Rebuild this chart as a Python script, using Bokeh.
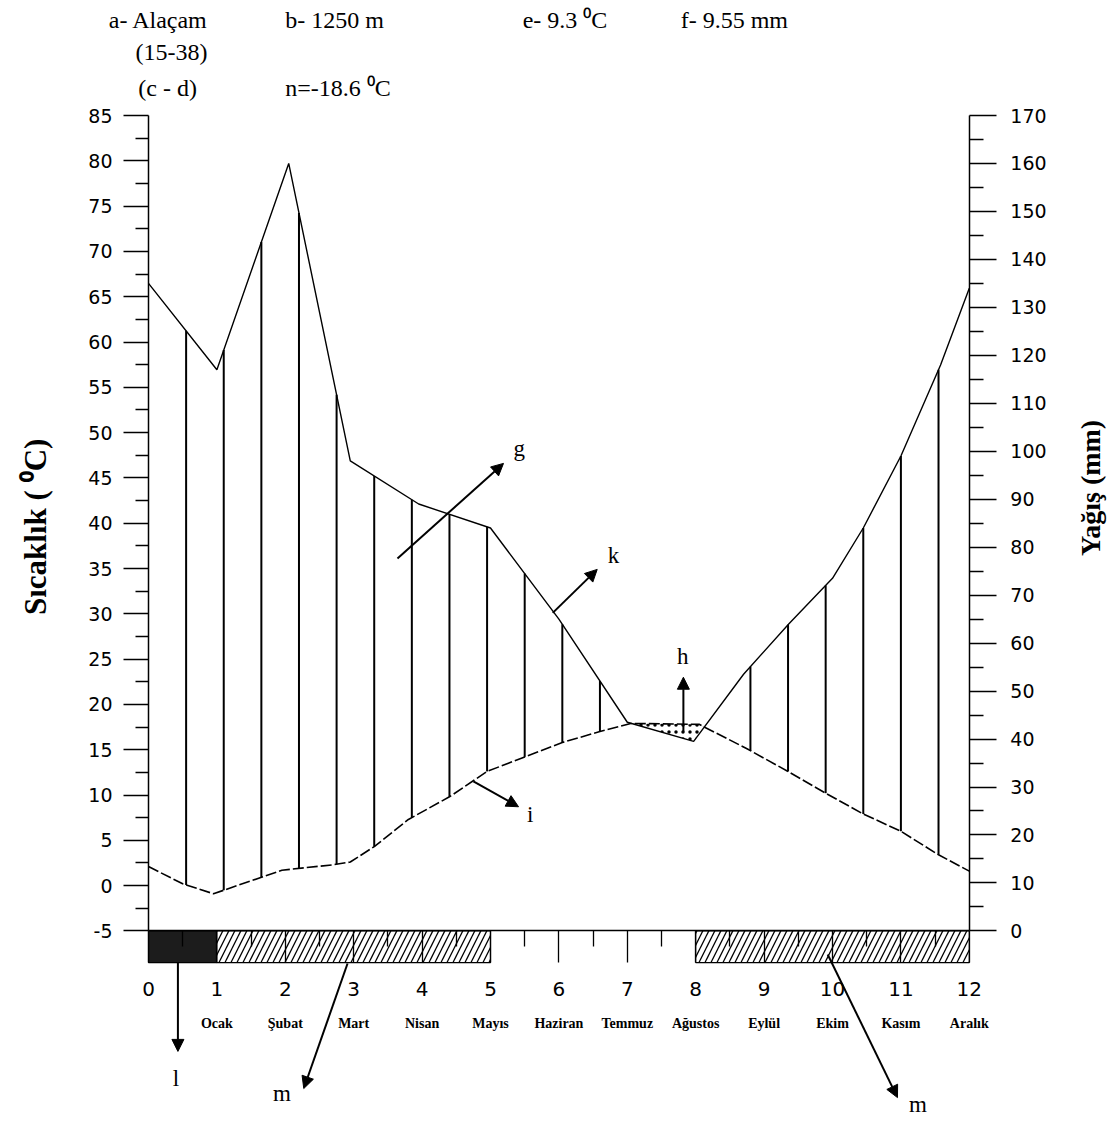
import numpy as np
from bokeh.plotting import figure
from bokeh.models import (Range1d, LinearAxis, FixedTicker, Label, Arrow, NormalHead)
from bokeh.embed import file_html
from bokeh.resources import INLINE

# ---------------- data ----------------
x_ticks = list(range(0, 13))
x_minor = [i + 0.5 for i in range(0, 12)]
month_ticks = list(range(1, 13))
month_names = ["Ocak", "Şubat", "Mart", "Nisan", "Mayıs", "Haziran",
               "Temmuz", "Ağustos", "Eylül", "Ekim", "Kasım", "Aralık"]

temp_ticks = list(range(-5, 86, 5))
prec_ticks = list(range(0, 171, 10))

# temperature curve (°C)
temp_x = [0, 0.5, 0.95, 1.95, 2.7, 2.95, 3.3, 3.8, 4.4, 4.95, 5.5, 6.05, 6.6,
          7.05, 8.05, 8.75, 9.35, 9.9, 10.45, 11.0, 11.55, 12]
temp_c = [2.1, 0.2, -0.9, 1.7, 2.3, 2.6, 4.3, 7.3, 9.8, 12.6, 14.2, 15.8, 17.0,
          17.9, 17.8, 15.1, 12.6, 10.2, 7.9, 6.0, 3.4, 1.6]

# precipitation curve (mm)
prec_x = [0, 1.0, 2.05, 2.95, 3.95, 5.0, 6.0, 7.0, 7.97, 8.7, 9.36, 10.0,
          10.45, 11.0, 11.58, 12]
prec_mm = [135, 117, 160, 98, 89, 84, 65, 43.5, 39.5, 53.5, 64, 73.5,
           84, 99, 118, 134]

# frost bars (month positions)
frost_sure_start = [0]
frost_sure_end = [1]
frost_prob_start = [1, 8]
frost_prob_end = [5, 12]

header_texts = ["a- Alaçam", "b- 1250 m", "e- 9.3 \u2070C", "f- 9.55 mm",
                "(15-38)", "(c - d)", "n=-18.6 \u2070C"]
left_title = "Sıcaklık ( \u2070C)"
right_title = "Yağış (mm)"

# ---------------- scales / layout ----------------
T_LO, T_HI = -5, 85
P_LO, P_HI = 0, 170
BAR_BOTTOM = -8.5
W, H = 1110, 1118
FRAME_L, FRAME_T = 148, 115          # pixel position of x=0 and of T=85
PX_U, PX_T = 68.4, 9.06              # pixels per month unit / per °C

x0 = -FRAME_L / PX_U
x1 = (W - FRAME_L) / PX_U
y1 = T_HI + FRAME_T / PX_T
y0 = T_HI - (H - FRAME_T) / PX_T


def mm_to_t(mm):
    return (np.asarray(mm, dtype=float) - P_LO) * (T_HI - T_LO) / (P_HI - P_LO) + T_LO


def t_to_mm(t):
    return (t - T_LO) * (P_HI - P_LO) / (T_HI - T_LO) + P_LO


p = figure(width=W, height=H, x_range=Range1d(x0, x1), y_range=Range1d(y0, y1),
           output_backend="svg", toolbar_location=None,
           x_axis_location=None, y_axis_location=None,
           min_border_left=0, min_border_right=0, min_border_top=0, min_border_bottom=0)
p.outline_line_color = None
p.xgrid.grid_line_color = None
p.ygrid.grid_line_color = None
p.background_fill_color = "white"
p.border_fill_color = "white"

# left axis (temperature)
yax = LinearAxis(fixed_location=0, bounds=(T_LO, T_HI))
yax.ticker = FixedTicker(ticks=temp_ticks, minor_ticks=[t + 2.5 for t in temp_ticks[:-1]])
yax.major_label_overrides = {-5: "-5"}
yax.major_tick_out = 25
yax.major_tick_in = 0
yax.minor_tick_out = 13
yax.minor_tick_in = 0
yax.major_tick_line_width = 1.5
yax.minor_tick_line_width = 1.5
yax.axis_line_width = 1.5
yax.major_label_standoff = 11
yax.major_label_text_font = "DejaVu Sans"
yax.major_label_text_font_size = "19px"
yax.major_label_text_color = "black"
p.add_layout(yax, "left")

# right axis (precipitation)
p.extra_y_ranges = {"prec": Range1d(t_to_mm(y0), t_to_mm(y1))}
rax = LinearAxis(y_range_name="prec", fixed_location=12, bounds=(P_LO, P_HI))
rax.ticker = FixedTicker(ticks=prec_ticks, minor_ticks=[t + 5 for t in prec_ticks[:-1]])
rax.major_tick_out = 27
rax.major_tick_in = 0
rax.minor_tick_out = 14
rax.minor_tick_in = 0
rax.major_tick_line_width = 1.5
rax.minor_tick_line_width = 1.5
rax.axis_line_width = 1.5
rax.major_label_standoff = 14
rax.major_label_text_font = "DejaVu Sans"
rax.major_label_text_font_size = "19px"
rax.major_label_text_color = "black"
p.add_layout(rax, "right")

# frost bars (drawn first so the axis ticks sit on top)
p.quad(left=frost_sure_start, right=frost_sure_end, top=T_LO, bottom=BAR_BOTTOM,
       fill_color="#1c1c1c", line_color="black", line_width=1.2)
p.quad(left=frost_prob_start, right=frost_prob_end, top=T_LO, bottom=BAR_BOTTOM,
       fill_color="white", line_color="black", line_width=1.2,
       hatch_pattern="/", hatch_color="black", hatch_scale=12, hatch_weight=1.3)

# bottom axis at -5 °C: numbers
bar_px = (T_LO - BAR_BOTTOM) * PX_T
xax = LinearAxis(fixed_location=T_LO, bounds=(0, 12))
xax.ticker = FixedTicker(ticks=x_ticks, minor_ticks=x_minor)
xax.axis_line_width = 1.5
xax.major_tick_out = int(round(bar_px))
xax.major_tick_in = 0
xax.minor_tick_out = int(round(bar_px / 2))
xax.minor_tick_in = 0
xax.major_tick_line_width = 1.3
xax.minor_tick_line_width = 1.3
xax.major_label_standoff = 19
xax.major_label_text_font = "DejaVu Sans"
xax.major_label_text_font_size = "20px"
xax.major_label_text_color = "black"
p.add_layout(xax, "below")

# bottom axis: month names
mxa = LinearAxis(fixed_location=T_LO, bounds=(0, 12), ticker=FixedTicker(ticks=month_ticks),
                 major_label_overrides={m: n for m, n in zip(month_ticks, month_names)})
mxa.axis_line_color = None
mxa.major_tick_line_color = None
mxa.minor_tick_line_color = None
mxa.major_tick_out = 0
mxa.major_tick_in = 0
mxa.major_label_standoff = 85
mxa.major_label_text_font = "Liberation Serif"
mxa.major_label_text_font_style = "bold"
mxa.major_label_text_font_size = "14px"
mxa.major_label_text_color = "black"
p.add_layout(mxa, "below")

# humid hatching (vertical lines between curves)
prec_t = mm_to_t(prec_mm)
hx = np.arange(0.55, 12, 0.55)
hp = np.interp(hx, prec_x, prec_t)
ht = np.interp(hx, temp_x, temp_c)
wet = (hp - ht) > 2
p.segment(x0=hx[wet], y0=ht[wet], x1=hx[wet], y1=hp[wet], line_color="black", line_width=2)

# dry period (dotted)
xs = np.linspace(0, 12, 1201)
pe = np.interp(xs, prec_x, prec_t)
te = np.interp(xs, temp_x, temp_c)
dry = te > pe
p.varea(x=xs[dry], y1=pe[dry], y2=te[dry], fill_alpha=0,
        hatch_pattern=".", hatch_color="black", hatch_scale=7, hatch_weight=3)

# curves
p.line(prec_x, prec_mm, y_range_name="prec", line_color="black", line_width=1.4)
p.line(temp_x, temp_c, line_color="black", line_width=1.6, line_dash="11 3")

# header texts
hdr_pos = [(-0.58, 95.5), (2.0, 95.5), (5.47, 95.5), (7.78, 95.5),
           (-0.19, 92.0), (-0.15, 88.0), (2.0, 88.0)]
for txt, (hx_, hy_) in zip(header_texts, hdr_pos):
    p.add_layout(Label(x=hx_, y=hy_, text=txt, text_font="Liberation Serif",
                       text_font_size="24px", text_align="left", text_baseline="middle",
                       text_color="black"))

# axis titles
p.add_layout(Label(x=-1.65, y=39.6, text=left_title, angle=np.pi / 2,
                   text_font="Liberation Serif", text_font_style="bold",
                   text_font_size="31px", text_align="center", text_baseline="middle",
                   text_color="black"))
p.add_layout(Label(x=13.77, y=43.9, text=right_title, angle=np.pi / 2,
                   text_font="Liberation Serif", text_font_style="bold",
                   text_font_size="28px", text_align="center", text_baseline="middle",
                   text_color="black"))

# annotation arrows and letters
arrows = [((3.64, 36.1), (5.19, 46.6)),
          ((5.91, 30.1), (6.56, 34.9)),
          ((7.82, 17.0), (7.82, 23.0)),
          ((4.75, 11.5), (5.41, 8.7)),
          ((0.43, -8.5), (0.43, -18.3)),
          ((2.91, -8.6), (2.27, -22.4)),
          ((9.93, -7.6), (10.95, -23.4))]
for (xs0, ys0), (xe, ye) in arrows:
    p.add_layout(Arrow(end=NormalHead(size=12, fill_color="black", line_color="black"),
                       x_start=xs0, y_start=ys0, x_end=xe, y_end=ye,
                       line_color="black", line_width=2))

letters = [("g", 5.42, 48.2), ("k", 6.8, 36.4), ("h", 7.81, 25.3), ("i", 5.58, 7.9),
           ("l", 0.4, -21.3), ("m", 1.95, -23.0), ("m", 11.25, -24.2)]
for t, lx, ly in letters:
    p.add_layout(Label(x=lx, y=ly, text=t, text_font="Liberation Serif",
                       text_font_size="23px", text_align="center", text_baseline="middle",
                       text_color="black"))

open("out.html", "w").write(file_html(p, INLINE))
